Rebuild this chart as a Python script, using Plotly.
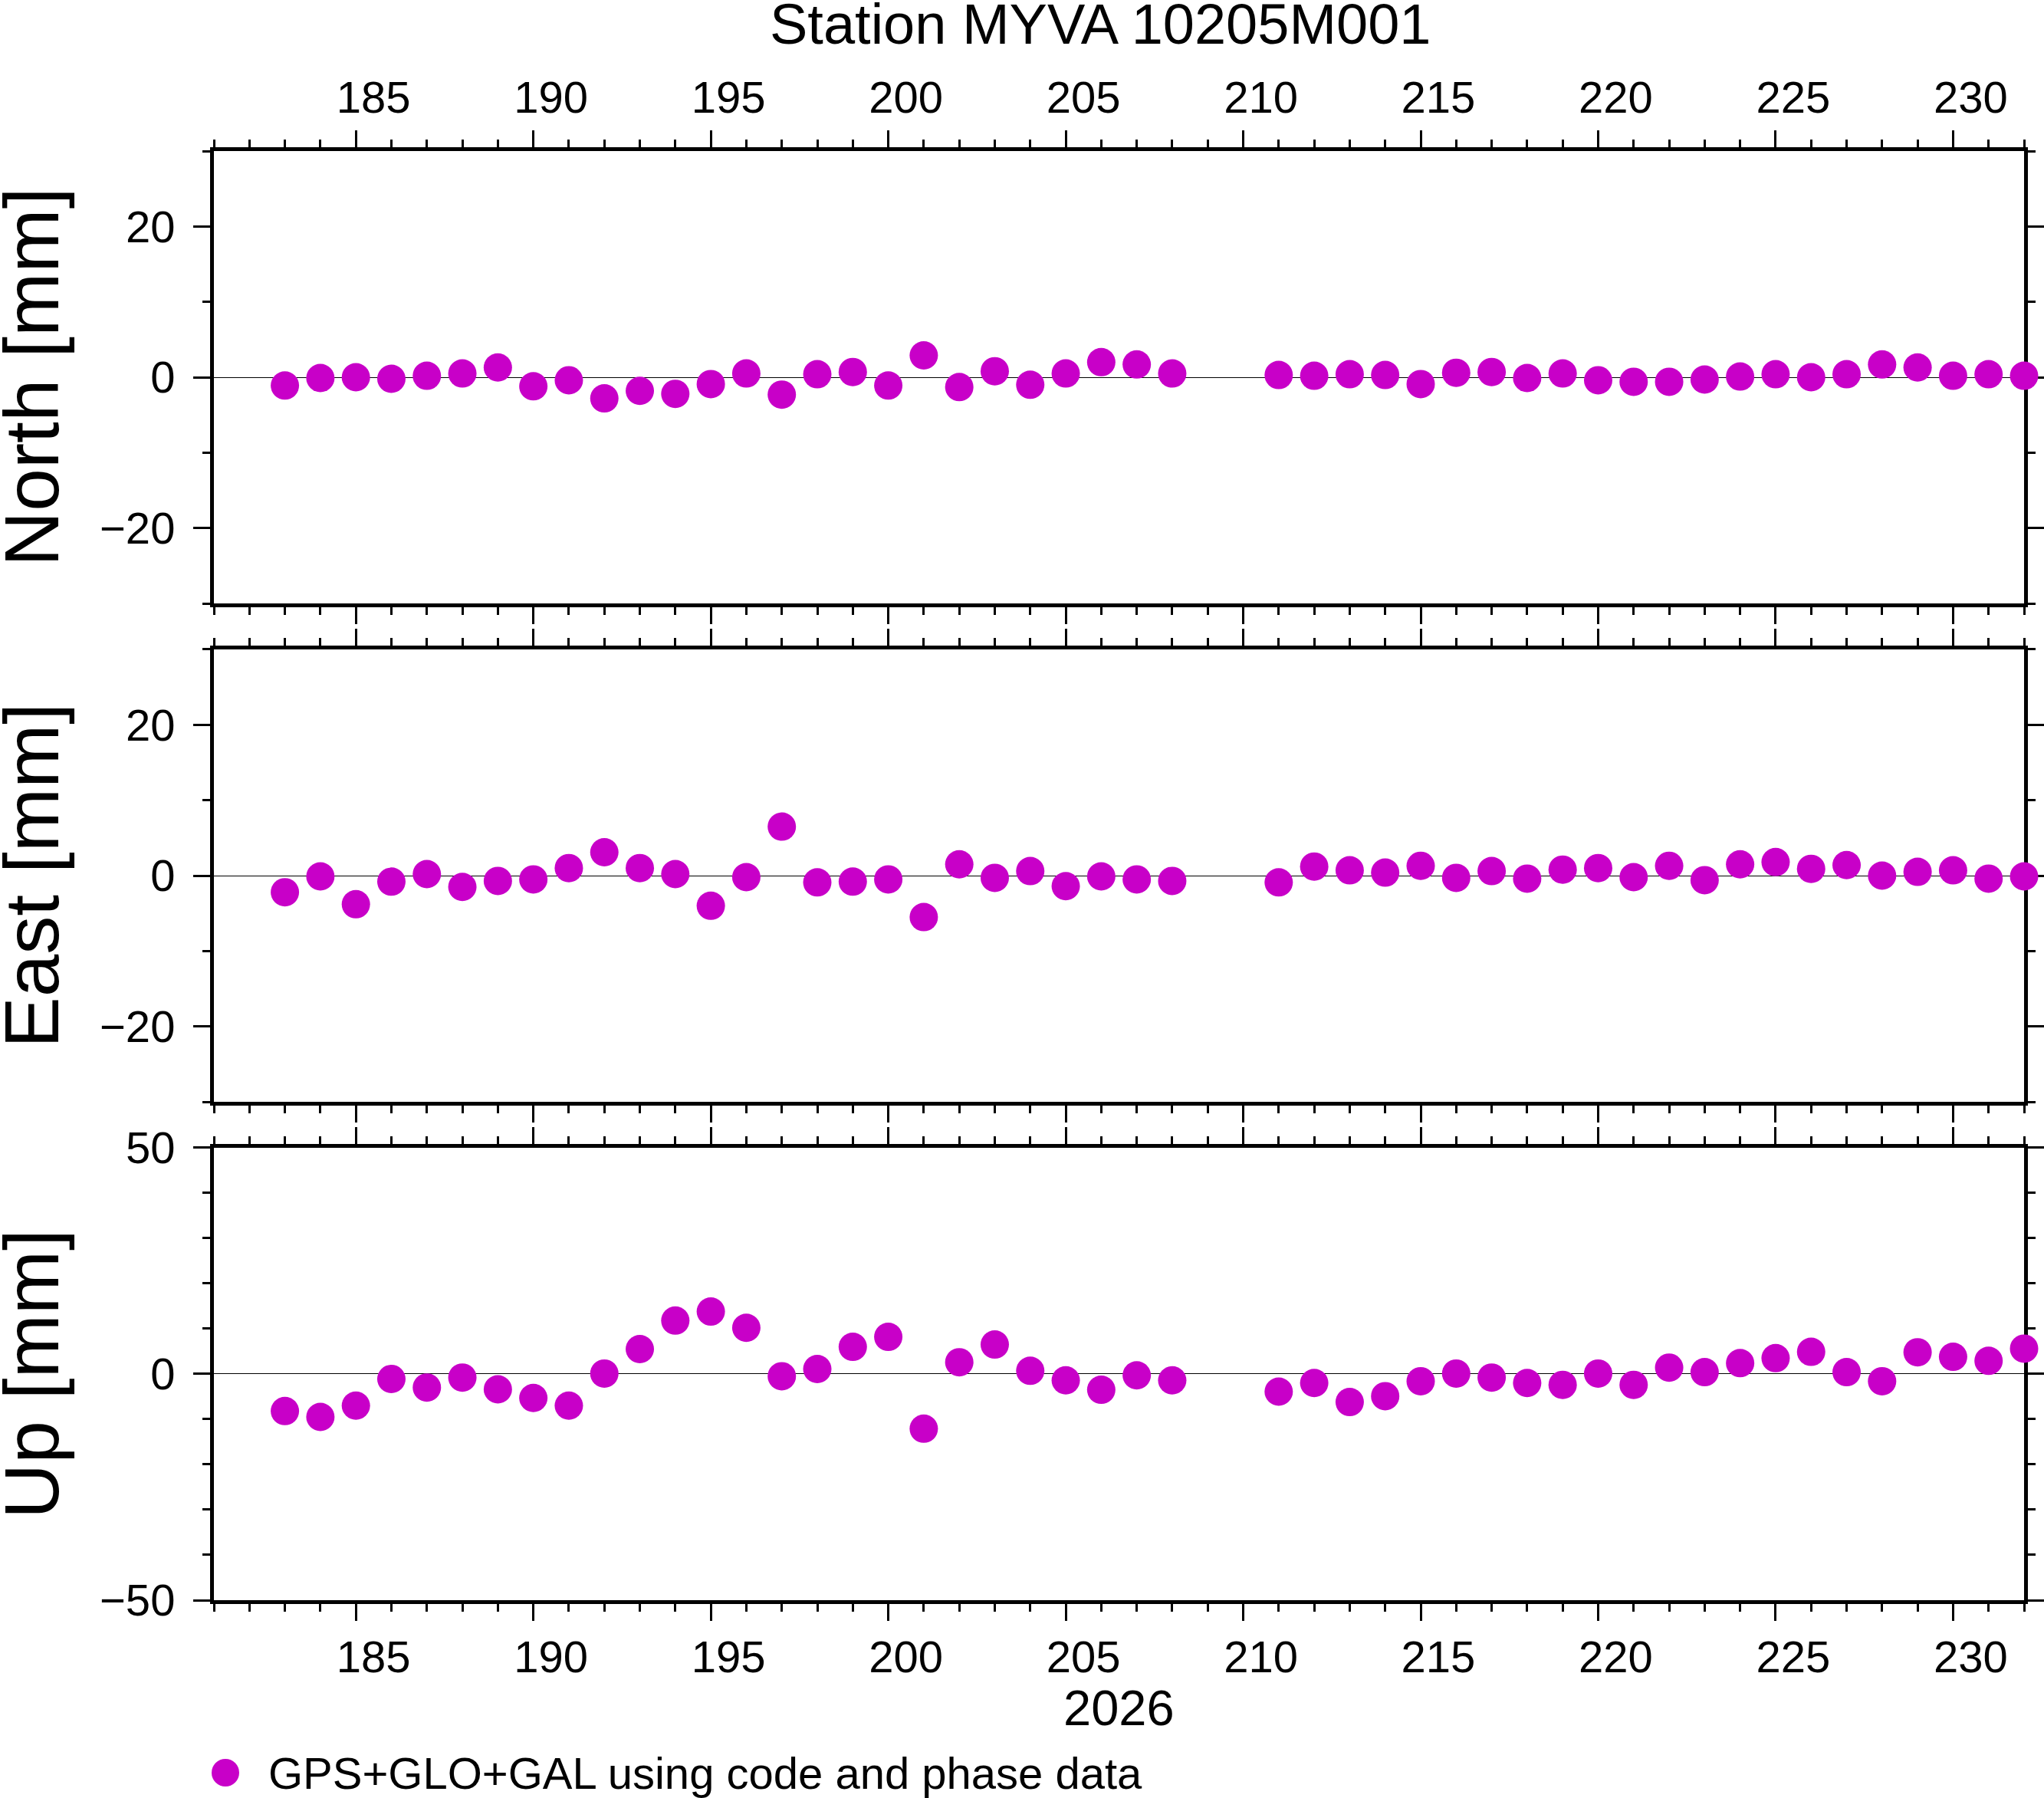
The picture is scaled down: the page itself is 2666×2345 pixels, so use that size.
"""Daily station coordinate residuals (North / East / Up) for MYVA."""
import plotly.graph_objects as go

FONT = "Liberation Sans"
MAGENTA = "rgb(200,0,200)"

station = "Station MYVA 10205M001"
year_label = "2026"
series_name = "GPS+GLO+GAL using code and phase data"

days = [183, 184, 185, 186, 187, 188, 189, 190, 191, 192, 193, 194, 195,
        196, 197, 198, 199, 200, 201, 202, 203, 204, 205, 206, 207, 208,
        211, 212, 213, 214, 215, 216, 217, 218, 219, 220, 221, 222, 223,
        224, 225, 226, 227, 228, 229, 230, 231, 232]

north = [-1.1, -0.1, 0.0, -0.2, 0.2, 0.5, 1.3, -1.2, -0.4, -2.8, -1.8, -2.2, -0.9,
         0.5, -2.3, 0.4, 0.7, -1.1, 2.9, -1.3, 0.8, -1.0, 0.5, 2.0, 1.7, 0.5,
         0.3, 0.2, 0.4, 0.3, -0.9, 0.6, 0.7, -0.1, 0.5, -0.4, -0.6, -0.6, -0.3,
         0.1, 0.4, 0.0, 0.4, 1.7, 1.3, 0.2, 0.4, 0.2]

east = [-2.2, -0.1, -3.8, -0.8, 0.2, -1.5, -0.7, -0.5, 1.0, 3.1, 1.0, 0.2, -4.0,
        -0.2, 6.5, -0.9, -0.8, -0.5, -5.5, 1.5, -0.3, 0.6, -1.4, -0.1, -0.5, -0.7,
        -0.9, 1.2, 0.7, 0.4, 1.3, -0.3, 0.6, -0.4, 0.8, 1.0, -0.2, 1.3, -0.6,
        1.5, 1.8, 0.9, 1.4, 0.0, 0.5, 0.7, -0.4, -0.1]

up = [-8.2, -9.5, -7.0, -1.1, -3.0, -0.8, -3.4, -5.3, -7.0, 0.1, 5.5, 11.8, 13.8,
      10.2, -0.5, 1.1, 6.0, 8.2, -12.1, 2.6, 6.5, 0.7, -1.4, -3.5, -0.3, -1.4,
      -3.9, -2.0, -6.2, -4.9, -1.6, 0.1, -0.8, -2.0, -2.4, 0.1, -2.4, 1.4, 0.4,
      2.4, 3.5, 4.9, 0.4, -1.6, 4.8, 3.8, 2.9, 5.6]

panels = [
    ("North [mm]", north, [-30, 30], 20, 10),
    ("East [mm]", east, [-30, 30], 20, 10),
    ("Up [mm]", up, [-50, 50], 50, 10),
]
domains = [[0.6878, 1.0], [0.3439, 0.6561], [0.0, 0.3122]]

W, H = 2666, 2345
M = dict(l=279, r=26, t=197, b=258)
pw = W - M["l"] - M["r"]
ph = H - M["t"] - M["b"]
day_px = pw / 51  # width of one day on the x axis


def px_x(x):
    return (x - M["l"]) / pw


def px_y(y):
    return (H - M["b"] - y) / ph


fig = go.Figure()
layout = {}
for i, (label, vals, yr, dt, minor_dt) in enumerate(panels):
    n = "" if i == 0 else str(i + 1)
    fig.add_trace(go.Scatter(
        x=days, y=vals, mode="markers", name=series_name,
        marker=dict(size=37, color=MAGENTA, line=dict(width=0)),
        xaxis="x" + n, yaxis="y" + n, cliponaxis=False, showlegend=False,
    ))
    common = dict(
        showline=True, linecolor="black", linewidth=5, mirror="ticks",
        ticks="outside", ticklen=22, tickwidth=3, tickcolor="black",
        showgrid=False, layer="below traces", automargin=False,
        tickfont=dict(family=FONT, size=58, color="black"),
    )
    # day labels sit in the middle of the day interval, not on the tick
    layout["xaxis" + n] = dict(
        common, anchor="y" + n, range=[181, 232], dtick=5, tick0=180,
        zeroline=False, ticklabelshift=round(day_px / 2),
        ticklabelstandoff=0 if i == 0 else -3,
        minor=dict(dtick=1, ticklen=10, tickwidth=3, tickcolor="black",
                   ticks="outside", showgrid=False),
        side="top" if i == 0 else "bottom",
        showticklabels=(i != 1),
    )
    layout["yaxis" + n] = dict(
        common, anchor="x" + n, domain=domains[i], range=yr, dtick=dt, tick0=0,
        zeroline=True, zerolinecolor="black", zerolinewidth=1.2,
        ticklabelstandoff=12,
        minor=dict(dtick=minor_dt, tick0=0, ticklen=10, tickwidth=3,
                   tickcolor="black", ticks="outside", showgrid=False),
    )

annotations = [
    dict(text=station, x=px_x(1435), y=px_y(31), xref="paper", yref="paper",
         showarrow=False, xanchor="center", yanchor="middle",
         font=dict(family=FONT, size=74, color="black")),
    dict(text=year_label, x=0.5, y=px_y(2227), xref="paper", yref="paper",
         showarrow=False, xanchor="center", yanchor="middle",
         font=dict(family=FONT, size=65, color="black")),
    dict(text=series_name, x=px_x(348), y=px_y(2312), xref="paper", yref="paper",
         showarrow=False, xanchor="left", yanchor="middle",
         font=dict(family=FONT, size=58, color="black")),
]
for i, (label, *_rest) in enumerate(panels):
    annotations.append(dict(
        text=label, x=px_x(41), y=sum(domains[i]) / 2, xref="paper", yref="paper",
        showarrow=False, xanchor="center", yanchor="middle", textangle=-90,
        font=dict(family=FONT, size=100, color="black"),
    ))

# legend symbol drawn as a fixed-size circle (plotly caps legend marker size)
shapes = [dict(type="circle", xref="paper", yref="paper", xsizemode="pixel",
               ysizemode="pixel", xanchor=px_x(294), yanchor=px_y(2312),
               x0=-18, x1=18, y0=-18, y1=18, fillcolor=MAGENTA,
               line=dict(width=0))]

fig.update_layout(
    width=W, height=H, margin=M, paper_bgcolor="white", plot_bgcolor="white",
    autosize=False, showlegend=False, annotations=annotations, shapes=shapes,
    font=dict(family=FONT, color="black"), **layout,
)

# drop the default page margin / scrollbar, then force the full size again
fig.write_html(
    "out.html",
    config={"displayModeBar": False, "responsive": False},
    post_script=(
        "document.body.style.margin='0';"
        "document.body.style.overflow='hidden';"
        "Plotly.relayout(document.getElementById('{plot_id}'),"
        "{width: %d, height: %d});" % (W, H)
    ),
)
